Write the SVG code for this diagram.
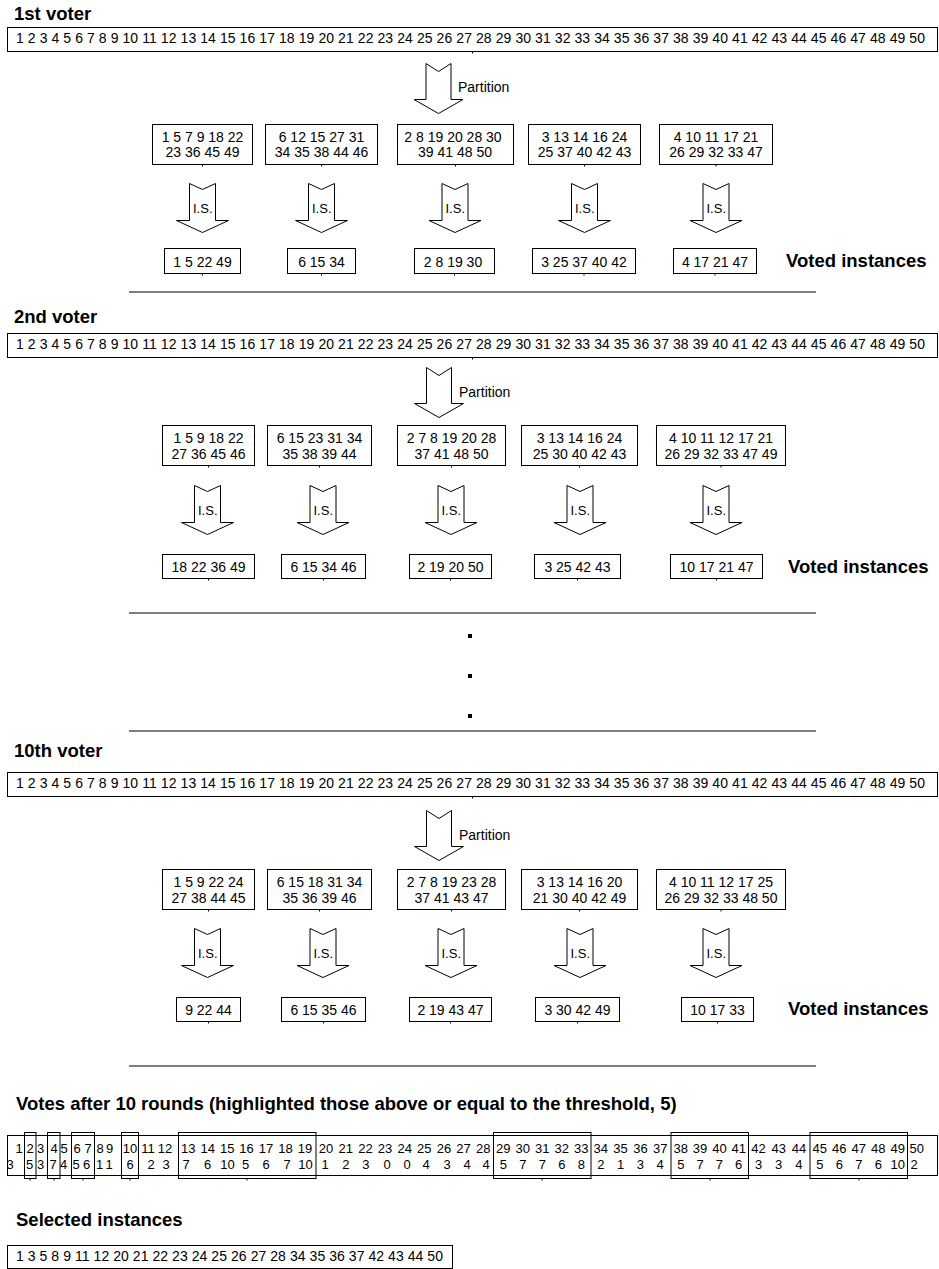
<svg xmlns="http://www.w3.org/2000/svg" width="939" height="1269" viewBox="0 0 939 1269">
<style>
text{font-family:"Liberation Sans",Arial,Helvetica,sans-serif;fill:#000}
.n{font-size:14px}
.c{text-anchor:middle}
.v{font-size:13px;text-anchor:middle}
.is{font-size:13px}
.b{font-size:18.5px;font-weight:bold}
.box{fill:#fff;stroke:#000;stroke-width:1}
.hl{fill:none;stroke:#000;stroke-width:1}
.tk{stroke:#000;stroke-width:1}
.arr{fill:#fff;stroke:#000;stroke-width:1;stroke-linejoin:miter}
.sep{stroke:#555;stroke-width:1.6}
</style>
<defs>
<path id="isa" class="arr" d="M-13 0L0 6L13 0L13 37L26 37L0 49L-26 37L-13 37Z"/>
<path id="pa" class="arr" d="M-12.5 0L0 8L12.5 0L12.5 36L24.5 36L0 50L-24.5 36L-12.5 36Z"/>
</defs>

<!-- ===== 1st voter ===== -->
<g id="voter1">
<text class="b" x="14" y="20">1st voter</text>
<g id="v1-all"><rect class="box" x="7.5" y="27.5" width="930" height="24"/><path class="tk" d="M472.5 51.5v2"/>
<text class="n" x="16" y="43" textLength="909" lengthAdjust="spacing">1 2 3 4 5 6 7 8 9 10 11 12 13 14 15 16 17 18 19 20 21 22 23 24 25 26 27 28 29 30 31 32 33 34 35 36 37 38 39 40 41 42 43 44 45 46 47 48 49 50</text></g>
<g id="v1-partition"><use href="#pa" x="438.5" y="63.5"/><text class="n" x="458" y="92">Partition</text></g>
<g id="v1-g1"><rect class="box" x="152.5" y="124.5" width="100" height="40"/><path class="tk" d="M202.5 164.5v2"/><text class="n c" x="202.5" y="142">1 5 7 9 18 22</text><text class="n c" x="202.5" y="157">23 36 45 49</text></g>
<g id="v1-g2"><rect class="box" x="265.5" y="124.5" width="112" height="40"/><path class="tk" d="M321.5 164.5v2"/><text class="n c" x="321.5" y="142">6 12 15 27 31</text><text class="n c" x="321.5" y="157">34 35 38 44 46</text></g>
<g id="v1-g3"><rect class="box" x="397.5" y="124.5" width="116" height="40"/><path class="tk" d="M455.5 164.5v2"/><text class="n c" x="453" y="142">2 8 19 20 28 30</text><text class="n c" x="455" y="157">39 41 48 50</text></g>
<g id="v1-g4"><rect class="box" x="528.5" y="124.5" width="112" height="40"/><path class="tk" d="M584.5 164.5v2"/><text class="n c" x="584.5" y="142">3 13 14 16 24</text><text class="n c" x="584.5" y="157">25 37 40 42 43</text></g>
<g id="v1-g5"><rect class="box" x="659.5" y="124.5" width="113" height="40"/><path class="tk" d="M716 164.5v2"/><text class="n c" x="716" y="142">4 10 11 17 21</text><text class="n c" x="716" y="157">26 29 32 33 47</text></g>
<g id="v1-is1"><use href="#isa" x="202.5" y="183.5"/><text class="is" x="193" y="213">I.S.</text></g>
<g id="v1-is2"><use href="#isa" x="321.5" y="183.5"/><text class="is" x="312" y="213">I.S.</text></g>
<g id="v1-is3"><use href="#isa" x="455" y="183.5"/><text class="is" x="445.5" y="213">I.S.</text></g>
<g id="v1-is4"><use href="#isa" x="584.5" y="183.5"/><text class="is" x="575" y="213">I.S.</text></g>
<g id="v1-is5"><use href="#isa" x="716" y="183.5"/><text class="is" x="706.5" y="213">I.S.</text></g>
<g id="v1-r1"><rect class="box" x="164.5" y="248.5" width="76" height="25"/><path class="tk" d="M202.5 273.5v2"/><text class="n c" x="202.5" y="267">1 5 22 49</text></g>
<g id="v1-r2"><rect class="box" x="287.5" y="248.5" width="68" height="25"/><path class="tk" d="M321.5 273.5v2"/><text class="n c" x="321.5" y="267">6 15 34</text></g>
<g id="v1-r3"><rect class="box" x="414.5" y="248.5" width="80" height="25"/><path class="tk" d="M454.5 273.5v2"/><text class="n c" x="453" y="267">2 8 19 30</text></g>
<g id="v1-r4"><rect class="box" x="532.5" y="248.5" width="103" height="25"/><path class="tk" d="M584 273.5v2"/><text class="n c" x="584" y="267">3 25 37 40 42</text></g>
<g id="v1-r5"><rect class="box" x="673.5" y="248.5" width="83" height="25"/><path class="tk" d="M715 273.5v2"/><text class="n c" x="715" y="267">4 17 21 47</text></g>
<text class="b" x="786" y="267">Voted instances</text>
</g>
<line class="sep" x1="129" y1="292" x2="816" y2="292"/>

<!-- ===== 2nd voter ===== -->
<g id="voter2">
<text class="b" x="14" y="323">2nd voter</text>
<g id="v2-all"><rect class="box" x="7.5" y="333.5" width="930" height="24"/><path class="tk" d="M472.5 357.5v2"/>
<text class="n" x="16" y="349" textLength="909" lengthAdjust="spacing">1 2 3 4 5 6 7 8 9 10 11 12 13 14 15 16 17 18 19 20 21 22 23 24 25 26 27 28 29 30 31 32 33 34 35 36 37 38 39 40 41 42 43 44 45 46 47 48 49 50</text></g>
<g id="v2-partition"><use href="#pa" x="439" y="367.5"/><text class="n" x="459" y="397">Partition</text></g>
<g id="v2-g1"><rect class="box" x="162.5" y="425.5" width="92" height="40"/><path class="tk" d="M208.5 465.5v2"/><text class="n c" x="208.5" y="443">1 5 9 18 22</text><text class="n c" x="208.5" y="459">27 36 45 46</text></g>
<g id="v2-g2"><rect class="box" x="267.5" y="425.5" width="104" height="40"/><path class="tk" d="M319.5 465.5v2"/><text class="n c" x="319.5" y="443">6 15 23 31 34</text><text class="n c" x="319.5" y="459">35 38 39 44</text></g>
<g id="v2-g3"><rect class="box" x="397.5" y="425.5" width="108" height="40"/><path class="tk" d="M451.5 465.5v2"/><text class="n c" x="451.5" y="443">2 7 8 19 20 28</text><text class="n c" x="451.5" y="459">37 41 48 50</text></g>
<g id="v2-g4"><rect class="box" x="521.5" y="425.5" width="116" height="40"/><path class="tk" d="M579.5 465.5v2"/><text class="n c" x="579.5" y="443">3 13 14 16 24</text><text class="n c" x="579.5" y="459">25 30 40 42 43</text></g>
<g id="v2-g5"><rect class="box" x="656.5" y="425.5" width="129" height="40"/><path class="tk" d="M721 465.5v2"/><text class="n c" x="721" y="443">4 10 11 12 17 21</text><text class="n c" x="721" y="459">26 29 32 33 47 49</text></g>
<g id="v2-is1"><use href="#isa" x="207.5" y="485.5"/><text class="is" x="198" y="515">I.S.</text></g>
<g id="v2-is2"><use href="#isa" x="323" y="485.5"/><text class="is" x="313.5" y="515">I.S.</text></g>
<g id="v2-is3"><use href="#isa" x="451" y="485.5"/><text class="is" x="441.5" y="515">I.S.</text></g>
<g id="v2-is4"><use href="#isa" x="580" y="485.5"/><text class="is" x="570.5" y="515">I.S.</text></g>
<g id="v2-is5"><use href="#isa" x="716" y="485.5"/><text class="is" x="706.5" y="515">I.S.</text></g>
<g id="v2-r1"><rect class="box" x="162.5" y="554.5" width="92" height="24"/><path class="tk" d="M208.5 578.5v2"/><text class="n c" x="208.5" y="572">18 22 36 49</text></g>
<g id="v2-r2"><rect class="box" x="281.5" y="554.5" width="84" height="24"/><path class="tk" d="M323.5 578.5v2"/><text class="n c" x="323.5" y="572">6 15 34 46</text></g>
<g id="v2-r3"><rect class="box" x="409.5" y="554.5" width="82" height="24"/><path class="tk" d="M450.5 578.5v2"/><text class="n c" x="450.5" y="572">2 19 20 50</text></g>
<g id="v2-r4"><rect class="box" x="534.5" y="554.5" width="86" height="24"/><path class="tk" d="M577.5 578.5v2"/><text class="n c" x="577.5" y="572">3 25 42 43</text></g>
<g id="v2-r5"><rect class="box" x="670.5" y="554.5" width="92" height="24"/><path class="tk" d="M716.5 578.5v2"/><text class="n c" x="716.5" y="572">10 17 21 47</text></g>
<text class="b" x="788" y="573">Voted instances</text>
</g>
<line class="sep" x1="129" y1="613" x2="816" y2="613"/>
<g id="ellipsis"><rect x="468" y="634" width="4" height="4"/><rect x="468" y="674" width="4" height="4"/><rect x="468" y="714" width="4" height="4"/></g>
<line class="sep" x1="129" y1="731" x2="816" y2="731"/>

<!-- ===== 10th voter ===== -->
<g id="voter10">
<text class="b" x="14" y="757">10th voter</text>
<g id="v10-all"><rect class="box" x="7.5" y="772.5" width="930" height="24"/><path class="tk" d="M472.5 796.5v2"/>
<text class="n" x="16" y="788" textLength="909" lengthAdjust="spacing">1 2 3 4 5 6 7 8 9 10 11 12 13 14 15 16 17 18 19 20 21 22 23 24 25 26 27 28 29 30 31 32 33 34 35 36 37 38 39 40 41 42 43 44 45 46 47 48 49 50</text></g>
<g id="v10-partition"><use href="#pa" x="439" y="810.5"/><text class="n" x="459" y="840">Partition</text></g>
<g id="v10-g1"><rect class="box" x="162.5" y="869.5" width="92" height="40"/><path class="tk" d="M208.5 909.5v2"/><text class="n c" x="208.5" y="887">1 5 9 22 24</text><text class="n c" x="208.5" y="903">27 38 44 45</text></g>
<g id="v10-g2"><rect class="box" x="267.5" y="869.5" width="104" height="40"/><path class="tk" d="M319.5 909.5v2"/><text class="n c" x="319.5" y="887">6 15 18 31 34</text><text class="n c" x="319.5" y="903">35 36 39 46</text></g>
<g id="v10-g3"><rect class="box" x="397.5" y="869.5" width="108" height="40"/><path class="tk" d="M451.5 909.5v2"/><text class="n c" x="451.5" y="887">2 7 8 19 23 28</text><text class="n c" x="451.5" y="903">37 41 43 47</text></g>
<g id="v10-g4"><rect class="box" x="521.5" y="869.5" width="116" height="40"/><path class="tk" d="M579.5 909.5v2"/><text class="n c" x="579.5" y="887">3 13 14 16 20</text><text class="n c" x="579.5" y="903">21 30 40 42 49</text></g>
<g id="v10-g5"><rect class="box" x="656.5" y="869.5" width="129" height="40"/><path class="tk" d="M721 909.5v2"/><text class="n c" x="721" y="887">4 10 11 12 17 25</text><text class="n c" x="721" y="903">26 29 32 33 48 50</text></g>
<g id="v10-is1"><use href="#isa" x="207.5" y="928.5"/><text class="is" x="198" y="958">I.S.</text></g>
<g id="v10-is2"><use href="#isa" x="323" y="928.5"/><text class="is" x="313.5" y="958">I.S.</text></g>
<g id="v10-is3"><use href="#isa" x="451" y="928.5"/><text class="is" x="441.5" y="958">I.S.</text></g>
<g id="v10-is4"><use href="#isa" x="580" y="928.5"/><text class="is" x="570.5" y="958">I.S.</text></g>
<g id="v10-is5"><use href="#isa" x="716" y="928.5"/><text class="is" x="706.5" y="958">I.S.</text></g>
<g id="v10-r1"><rect class="box" x="176.5" y="997.5" width="64" height="24"/><path class="tk" d="M208.5 1021.5v2"/><text class="n c" x="208.5" y="1015">9 22 44</text></g>
<g id="v10-r2"><rect class="box" x="281.5" y="997.5" width="84" height="24"/><path class="tk" d="M323.5 1021.5v2"/><text class="n c" x="323.5" y="1015">6 15 35 46</text></g>
<g id="v10-r3"><rect class="box" x="409.5" y="997.5" width="82" height="24"/><path class="tk" d="M450.5 1021.5v2"/><text class="n c" x="450.5" y="1015">2 19 43 47</text></g>
<g id="v10-r4"><rect class="box" x="535.5" y="997.5" width="84" height="24"/><path class="tk" d="M577.5 1021.5v2"/><text class="n c" x="577.5" y="1015">3 30 42 49</text></g>
<g id="v10-r5"><rect class="box" x="681.5" y="997.5" width="72" height="24"/><path class="tk" d="M717.5 1021.5v2"/><text class="n c" x="717.5" y="1015">10 17 33</text></g>
<text class="b" x="788" y="1015">Voted instances</text>
</g>
<line class="sep" x1="129" y1="1066" x2="816" y2="1066"/>

<!-- ===== Votes ===== -->
<g id="votes">
<text class="b" x="16" y="1110">Votes after 10 rounds (highlighted those above or equal to the threshold, 5)</text>
<rect class="box" x="7.5" y="1135.5" width="930" height="40"/>
<g id="highlights">
<rect class="hl" x="24.5" y="1132.5" width="11.5" height="46"/>
<rect class="hl" x="47.5" y="1132.5" width="12.5" height="46"/>
<rect class="hl" x="71.5" y="1132.5" width="23" height="46"/>
<rect class="hl" x="121.5" y="1132.5" width="17" height="46"/>
<rect class="hl" x="178.5" y="1132.5" width="137.5" height="46"/>
<rect class="hl" x="493.5" y="1132.5" width="97.5" height="46"/>
<rect class="hl" x="671" y="1132.5" width="77.5" height="46"/>
<rect class="hl" x="810" y="1132.5" width="97.5" height="46"/>
<path class="tk" d="M30 1178.5v2M54 1178.5v2M83 1178.5v2M130 1178.5v2M247 1178.5v2M542 1178.5v2M710 1178.5v2M859 1178.5v2"/>
</g>
<g id="idx" class="v">
<text x="19" y="1153">1</text><text x="30" y="1153">2</text><text x="40.5" y="1153">3</text><text x="54" y="1153">4</text><text x="64" y="1153">5</text><text x="77" y="1153">6</text><text x="88" y="1153">7</text><text x="100" y="1153">8</text><text x="109.5" y="1153">9</text><text x="130" y="1153">10</text>
<text x="148" y="1153">11</text><text x="165" y="1153">12</text><text x="188.3" y="1153">13</text><text x="207.7" y="1153">14</text><text x="227.2" y="1153">15</text><text x="246.6" y="1153">16</text><text x="266.1" y="1153">17</text><text x="285.6" y="1153">18</text><text x="305" y="1153">19</text><text x="326.1" y="1153">20</text>
<text x="345.7" y="1153">21</text><text x="365.4" y="1153">22</text><text x="385" y="1153">23</text><text x="404.7" y="1153">24</text><text x="424.3" y="1153">25</text><text x="443.9" y="1153">26</text><text x="463.6" y="1153">27</text><text x="483.2" y="1153">28</text><text x="503.3" y="1153">29</text><text x="522.8" y="1153">30</text>
<text x="542.3" y="1153">31</text><text x="561.8" y="1153">32</text><text x="581.3" y="1153">33</text><text x="600.8" y="1153">34</text><text x="620.6" y="1153">35</text><text x="640.4" y="1153">36</text><text x="660.2" y="1153">37</text><text x="680.8" y="1153">38</text><text x="700.1" y="1153">39</text><text x="719.4" y="1153">40</text>
<text x="738.7" y="1153">41</text><text x="758.5" y="1153">42</text><text x="778.7" y="1153">43</text><text x="798.9" y="1153">44</text><text x="819.8" y="1153">45</text><text x="839.3" y="1153">46</text><text x="858.8" y="1153">47</text><text x="878.3" y="1153">48</text><text x="897.8" y="1153">49</text><text x="916.7" y="1153">50</text>
</g>
<g id="cnt" class="v">
<text x="10" y="1169">3</text><text x="29.5" y="1169">5</text><text x="40.5" y="1169">3</text><text x="53" y="1169">7</text><text x="63.5" y="1169">4</text><text x="76" y="1169">5</text><text x="86.5" y="1169">6</text><text x="99.5" y="1169">1</text><text x="109" y="1169">1</text><text x="130" y="1169">6</text>
<text x="151" y="1169">2</text><text x="166" y="1169">3</text><text x="186" y="1169">7</text><text x="207.5" y="1169">6</text><text x="227.5" y="1169">10</text><text x="245.5" y="1169">5</text><text x="266" y="1169">6</text><text x="287" y="1169">7</text><text x="305.5" y="1169">10</text><text x="325" y="1169">1</text>
<text x="345.8" y="1169">2</text><text x="365.8" y="1169">3</text><text x="387" y="1169">0</text><text x="407" y="1169">0</text><text x="426" y="1169">4</text><text x="447" y="1169">3</text><text x="467" y="1169">4</text><text x="486" y="1169">4</text><text x="503.3" y="1169">5</text><text x="522.8" y="1169">7</text>
<text x="542.3" y="1169">7</text><text x="561.8" y="1169">6</text><text x="581.3" y="1169">8</text><text x="600.8" y="1169">2</text><text x="620.6" y="1169">1</text><text x="640.4" y="1169">3</text><text x="660.2" y="1169">4</text><text x="680.8" y="1169">5</text><text x="700.1" y="1169">7</text><text x="719.4" y="1169">7</text>
<text x="738.7" y="1169">6</text><text x="758.5" y="1169">3</text><text x="778.7" y="1169">3</text><text x="798.9" y="1169">4</text><text x="819.8" y="1169">5</text><text x="839.3" y="1169">6</text><text x="858.8" y="1169">7</text><text x="878.3" y="1169">6</text><text x="897.8" y="1169">10</text><text x="914" y="1169">2</text>
</g>
</g>

<!-- ===== Selected ===== -->
<g id="selected">
<text class="b" x="16" y="1226">Selected instances</text>
<rect class="box" x="7.5" y="1245.5" width="445" height="23"/>
<text class="n" x="16" y="1261" textLength="427" lengthAdjust="spacing">1 3 5 8 9 11 12 20 21 22 23 24 25 26 27 28 34 35 36 37 42 43 44 50</text>
</g>
</svg>
